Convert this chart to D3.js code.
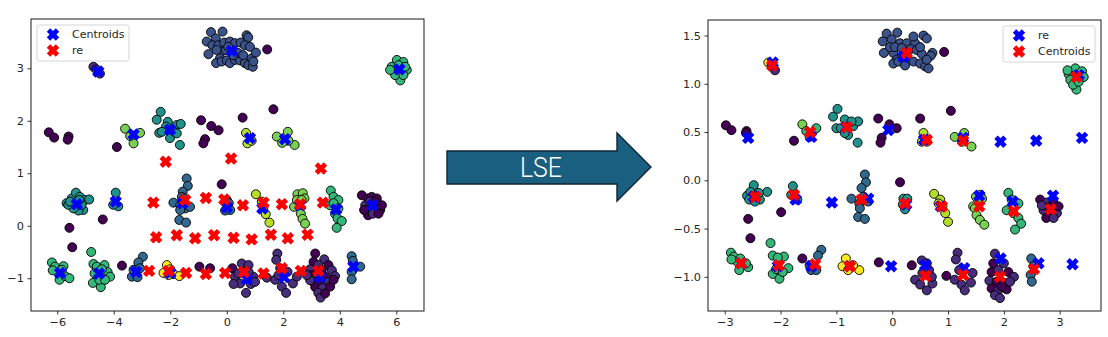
<!DOCTYPE html>
<html>
<head>
<meta charset="utf-8">
<script src="https://cdn.jsdelivr.net/npm/d3@7"></script>
<style>
  body { margin: 0; background: #fff; }
  svg text { font-family: "DejaVu Sans", sans-serif; }
</style>
</head>
<body>
<div id="chart"></div>
<script>
// viridis-like group colours of the points
var groupColors = ["#440154", "#472d7b", "#3b528b", "#31688e", "#21918c", "#35b779", "#7ad151", "#b5de2b", "#fde725"];

// ---- before LSE (left panel) ----
var xTicksBefore = [-6, -4, -2, 0, 2, 4, 6];
var yTicksBefore = [-1, 0, 1, 2, 3];

var pointsBefore = [
  // top cluster
  [-0.56,3.69,2],[-0.15,3.70,2],[-0.39,3.57,2],[-0.71,3.51,2],[-0.51,3.44,2],[-0.30,3.44,2],[-0.09,3.49,2],
  [0.11,3.51,2],[0.29,3.48,2],[0.49,3.49,2],[0.70,3.63,2],[0.76,3.59,2],[0.64,3.44,2],[0.82,3.41,2],
  [-0.65,3.27,2],[-0.18,3.32,2],[-0.03,3.35,2],[-0.24,3.19,2],[-0.38,3.10,2],[-0.18,3.13,2],[0.0,3.15,2],
  [0.11,3.10,2],[0.29,3.16,2],[0.47,3.15,2],[0.64,3.10,2],[0.76,3.06,2],[0.92,3.03,2],[0.88,3.19,2],
  [1.03,3.30,2],[0.41,3.29,2],[0.58,3.25,2],[0.23,3.25,2],[-0.36,3.35,2],[0.94,3.13,2],[0.05,3.41,2],
  [1.43,3.36,0],
  [-4.72,3.03,1],[-4.49,2.90,1],[-4.62,2.98,1],
  [5.84,3.03,5],[6.02,3.16,5],[6.25,3.12,5],[6.37,2.97,5],[6.14,2.77,5],[5.96,2.87,5],[5.78,2.97,5],
  [6.25,2.87,5],[6.08,3.06,5],[6.31,3.03,5],
  // scattered
  [-6.30,1.78,0],[-6.11,1.68,0],[-5.60,1.70,0],[-5.63,1.64,0],[-3.89,1.50,0],[-0.91,2.01,0],[-0.55,1.90,0],
  [-0.29,1.82,0],[-0.77,1.65,0],[-0.83,1.57,0],[0.56,2.06,0],[1.65,2.22,0],[-0.18,0.79,0],[-4.39,0.12,0],
  [-5.57,-0.04,0],[-5.47,-0.41,0],[-3.71,-0.76,0],[-0.97,-0.78,0],[-0.59,-0.81,0],[0.20,-0.81,0],[1.42,-0.99,1],
  // row near 1.7
  [-3.60,1.85,6],[-3.07,1.77,6],[-3.30,1.57,6],[-3.42,1.71,6],
  [-2.34,2.17,4],[-2.48,2.02,4],[-2.09,1.98,4],[-2.39,1.77,4],[-2.01,1.67,4],[-1.66,1.54,4],[-1.77,1.92,4],
  [-1.63,1.94,4],[-1.86,1.79,4],[-2.15,1.89,4],[-1.77,1.76,4],[-2.30,1.79,4],
  [0.68,1.77,7],[0.73,1.57,7],[0.88,1.62,7],
  [1.77,1.70,6],[2.16,1.79,6],[2.40,1.54,6],[2.18,1.62,6],[1.96,1.58,6],
  // row near 0.4
  [-5.67,0.43,4],[-5.49,0.52,4],[-5.34,0.63,4],[-5.20,0.55,4],[-5.02,0.49,4],[-4.87,0.50,4],[-5.08,0.30,4],
  [-5.25,0.29,4],[-5.43,0.33,4],[-5.61,0.40,4],[-5.31,0.43,4],[-5.14,0.40,4],[-5.22,0.49,4],[-5.55,0.46,4],
  [-3.93,0.63,4],[-3.84,0.37,4],[-4.02,0.40,4],
  [-1.42,0.90,3],[-1.38,0.76,3],[-1.56,0.65,3],[-1.59,0.55,3],[-1.89,0.44,3],[-1.65,0.39,3],[-1.47,0.33,3],
  [-1.30,0.36,3],[-1.65,0.30,3],[-1.68,0.11,3],[-1.44,0.06,3],[-1.51,0.52,3],[-1.56,0.46,3],
  [0.0,0.49,3],[-0.06,0.29,3],[0.12,0.30,3],[0.07,0.43,3],
  [1.03,0.60,7],[1.30,0.35,7],[1.38,0.22,7],[1.51,0.06,7],[1.24,0.46,7],
  [2.50,0.60,6],[2.69,0.62,6],[2.75,0.52,6],[2.56,0.39,6],[2.38,0.36,6],[2.62,0.23,6],[2.68,0.13,6],
  [2.77,0.04,6],[2.48,0.49,6],[2.65,0.49,6],
  [3.68,0.67,5],[3.78,0.55,5],[3.95,0.49,5],[3.66,0.39,5],[3.83,0.23,5],[3.92,0.14,5],[4.07,0.09,5],
  [3.89,-0.04,5],[3.78,0.43,5],[3.95,0.33,5],
  [4.78,0.58,0],[5.00,0.52,0],[5.13,0.55,0],[5.31,0.52,0],[4.90,0.39,1],[5.05,0.33,0],[5.25,0.33,0],
  [5.43,0.30,0],[5.00,0.20,0],[5.17,0.23,1],[5.37,0.23,0],[5.31,0.43,0],[4.86,0.30,0],[5.49,0.39,0],
  [5.07,0.46,1],[5.25,0.46,0],
  // row near -0.9
  [-6.19,-0.70,5],[-6.08,-0.78,5],[-6.16,-0.85,5],[-5.78,-0.77,5],[-5.92,-1.03,5],[-5.72,-0.96,5],
  [-5.57,-1.00,5],[-5.84,-0.84,5],
  [-4.80,-0.50,5],[-4.72,-0.73,5],[-4.60,-0.78,5],[-4.33,-0.75,5],[-4.22,-0.88,5],[-4.13,-0.97,5],
  [-4.74,-1.09,5],[-4.46,-1.17,5],[-4.51,-1.03,5],[-4.31,-1.03,5],[-4.68,-0.91,5],[-4.42,-0.83,5],
  [-2.97,-0.59,3],[-3.13,-0.70,3],[-3.36,-0.97,3],[-3.16,-0.98,3],[-3.30,-0.84,3],[-3.07,-0.81,3],
  [-2.12,-0.75,8],[-2.24,-0.90,8],[-2.06,-0.94,8],[-1.89,-0.92,8],[-1.68,-0.96,8],[-2.00,-0.83,8],
  [0.53,-0.72,1],[0.77,-0.75,1],[0.29,-0.97,1],[0.47,-1.10,1],[0.68,-1.28,1],[0.85,-1.11,1],
  [0.94,-0.97,1],[0.59,-0.88,1],[0.77,-0.88,1],[0.41,-0.91,1],[1.00,-1.07,1],[0.24,-1.11,1],
  [1.79,-0.53,1],[1.75,-0.65,1],[1.89,-0.81,1],[1.71,-1.03,1],[1.95,-1.16,1],[2.10,-1.28,1],
  [2.34,-1.10,1],[2.48,-0.97,1],[1.83,-0.94,1],[2.15,-0.88,1],
  [3.13,-0.53,0],[3.45,-0.64,1],[3.07,-0.69,0],[3.24,-0.75,1],[3.60,-0.75,0],[2.95,-0.83,1],
  [3.36,-0.85,0],[3.72,-0.85,1],[3.01,-0.94,0],[3.19,-0.96,1],[3.48,-0.97,0],[3.83,-0.96,1],
  [3.07,-1.07,1],[3.30,-1.09,0],[3.60,-1.07,1],[3.13,-1.17,0],[3.39,-1.19,1],[3.66,-1.16,0],
  [3.24,-1.28,1],[3.32,-1.37,1],[3.48,-1.29,0],[2.95,-1.04,1],[3.78,-1.03,0],[2.83,-0.94,1],
  [4.42,-0.58,3],[4.46,-0.67,3],[4.72,-0.78,3],[4.42,-0.88,3],[4.42,-1.02,3]
];

var centroidsBefore = [
  [-4.55,2.94],[0.18,3.33],[6.11,2.98],[-3.30,1.74],[-2.01,1.83],[0.82,1.67],[2.06,1.65],
  [-5.31,0.41],[-3.93,0.46],[-1.56,0.43],[0.0,0.35],[1.26,0.33],[2.60,0.39],[3.87,0.31],[5.16,0.39],
  [-5.90,-0.90],[-4.52,-0.91],[-3.21,-0.88],[-2.0,-0.90],[0.71,-1.02],[2.03,-0.98],[3.30,-0.98],[4.48,-0.78]
];

var reBefore = [
  [-2.16,1.22],[0.15,1.28],[3.33,1.09],
  [-2.60,0.44],[-1.47,0.49],[-0.74,0.53],[-0.09,0.50],[0.57,0.39],[1.30,0.44],[1.95,0.41],[2.60,0.41],[3.40,0.44],
  [-2.50,-0.22],[-1.77,-0.18],[-1.12,-0.24],[-0.45,-0.18],[0.24,-0.23],[0.88,-0.26],[1.56,-0.17],[2.16,-0.24],[2.86,-0.17],
  [-2.75,-0.86],[-2.06,-0.86],[-1.44,-0.90],[-0.74,-0.92],[-0.06,-0.90],[0.61,-0.88],[1.30,-0.91],[1.95,-0.81],[2.62,-0.86],[3.24,-0.86]
];

// ---- after LSE (right panel) ----
var xTicksAfter = [-3, -2, -1, 0, 1, 2, 3];
var yTicksAfter = [-1.0, -0.5, 0.0, 0.5, 1.0, 1.5];

var pointsAfter = [
  // top cluster
  [-0.10,1.52,2],[0.09,1.53,2],[-0.17,1.44,2],[-0.01,1.46,2],[0.14,1.42,2],[0.26,1.42,2],[0.41,1.42,2],
  [0.56,1.50,2],[0.62,1.47,2],[0.72,1.32,2],[0.69,1.29,2],[-0.15,1.32,2],[0.02,1.32,2],[0.08,1.25,2],
  [0.02,1.21,2],[0.11,1.23,2],[0.26,1.23,2],[0.38,1.23,2],[0.50,1.21,2],[0.59,1.18,2],[0.65,1.16,2],
  [0.23,1.19,2],[-0.04,1.38,2],[0.05,1.38,2],[0.33,1.36,2],[0.44,1.35,2],[0.53,1.31,2],[0.62,1.25,2],
  [0.17,1.37,2],[0.38,1.49,2],[0.50,1.38,2],
  [0.93,1.33,0],
  [-2.22,1.22,8],[-2.10,1.14,1],[-2.16,1.20,1],
  [3.16,1.10,5],[3.28,1.16,5],[3.40,1.13,5],[3.43,1.07,5],[3.19,1.04,5],[3.30,0.94,5],[3.24,0.99,5],
  [3.14,1.14,5],[3.34,1.02,5],
  // scattered
  [-2.98,0.57,0],[-2.88,0.52,0],[-2.61,0.51,0],[-2.62,0.49,0],[-1.76,0.41,0],[-0.25,0.64,0],[-0.05,0.58,0],
  [0.08,0.54,0],[-0.19,0.44,0],[-0.21,0.39,0],[0.50,0.64,0],[1.05,0.72,0],[0.14,-0.02,0],[-1.99,-0.33,0],
  [-2.58,-0.40,0],[-2.54,-0.60,0],[-1.61,-0.81,0],[-0.24,-0.85,0],[0.35,-0.88,0],[0.97,-0.99,0],
  // row near 0.5
  [-1.61,0.58,6],[-1.36,0.54,5],[-1.48,0.45,5],[-1.54,0.51,5],
  [-1.06,0.66,4],[-0.98,0.74,4],[-0.85,0.63,4],[-1.00,0.54,4],[-0.79,0.47,4],[-0.70,0.56,4],[-0.61,0.61,4],
  [-0.62,0.39,4],[-0.92,0.54,4],[-0.73,0.61,4],[-0.85,0.49,4],
  [0.56,0.49,7],[0.62,0.40,7],[0.53,0.40,7],
  [1.12,0.45,6],[1.29,0.49,6],[1.42,0.35,6],[1.25,0.40,6],
  // row near -0.2
  [-2.48,-0.05,4],[-2.60,-0.16,4],[-2.54,-0.12,4],[-2.37,-0.20,4],[-2.24,-0.12,4],[-2.56,-0.20,4],
  [-2.39,-0.13,4],[-2.46,-0.22,4],
  [-1.78,-0.06,4],[-1.81,-0.15,4],[-1.70,-0.20,4],
  [-0.49,0.06,3],[-0.47,-0.02,3],[-0.55,-0.08,3],[-0.73,-0.19,3],[-0.59,-0.24,3],[-0.58,-0.29,3],
  [-0.61,-0.38,3],[-0.49,-0.40,3],[-0.43,-0.22,3],[-0.51,-0.17,3],
  [0.20,-0.19,4],[0.27,-0.19,4],[0.23,-0.30,4],[0.19,-0.25,4],
  [0.75,-0.14,7],[0.86,-0.20,7],[0.90,-0.27,7],[0.95,-0.34,7],[1.00,-0.43,7],[0.83,-0.24,7],
  [1.50,-0.17,6],[1.58,-0.15,6],[1.45,-0.27,6],[1.48,-0.29,6],[1.51,-0.36,6],[1.57,-0.41,6],
  [1.65,-0.46,6],[1.61,-0.19,6],
  [2.08,-0.13,5],[2.14,-0.20,5],[2.05,-0.31,5],[2.17,-0.34,5],[2.26,-0.39,5],[2.31,-0.45,5],
  [2.20,-0.51,5],[2.26,-0.24,5],
  [2.65,-0.20,0],[2.77,-0.23,1],[2.89,-0.23,0],[2.71,-0.31,1],[2.83,-0.34,0],[2.95,-0.34,1],
  [2.76,-0.39,0],[2.89,-0.39,1],[2.98,-0.27,0],[2.80,-0.28,0],[2.68,-0.26,1],
  // row near -0.9
  [-2.89,-0.75,5],[-2.84,-0.79,5],[-2.78,-0.84,5],[-2.88,-0.82,5],[-2.58,-0.90,5],[-2.74,-0.93,5],
  [-2.62,-0.86,5],[-2.72,-0.81,5],
  [-2.18,-0.65,5],[-2.14,-0.78,5],[-1.94,-0.79,5],[-1.86,-0.91,5],[-2.14,-0.97,5],[-2.02,-1.02,5],
  [-2.08,-0.92,5],[-1.96,-0.95,5],[-2.05,-0.80,5],
  [-1.27,-0.72,3],[-1.33,-0.78,3],[-1.45,-0.93,3],[-1.36,-0.93,3],[-1.48,-0.88,3],
  [-0.83,-0.81,8],[-0.89,-0.89,8],[-0.79,-0.93,8],[-0.59,-0.93,8],[-0.70,-0.88,8],
  [0.53,-0.83,1],[0.62,-0.86,1],[0.41,-1.03,1],[0.50,-1.08,1],[0.62,-1.14,1],[0.72,-1.07,1],
  [0.71,-1.00,1],[0.54,-0.96,1],[0.66,-0.93,1],
  [1.17,-0.75,1],[1.14,-0.82,1],[1.12,-1.03,1],[1.24,-1.08,1],[1.30,-1.14,1],[1.44,-0.96,1],
  [1.41,-1.06,1],[1.20,-0.93,1],
  [1.84,-0.76,1],[1.81,-0.86,0],[2.00,-0.86,1],[1.78,-0.95,0],[1.90,-0.93,1],[2.08,-0.95,0],
  [1.74,-1.04,1],[1.87,-1.05,0],[2.00,-1.06,1],[2.18,-1.00,1],[1.78,-1.12,0],[1.90,-1.14,1],
  [2.05,-1.13,0],[1.84,-1.19,1],[1.93,-1.22,1],[1.96,-1.10,0],[2.11,-1.05,1],
  [2.49,-0.81,3],[2.48,-0.98,3],[2.50,-1.05,3],[2.53,-0.89,3]
];

var reAfter = [
  [-2.14,1.22],[0.20,1.28],[3.34,1.09],
  [-2.58,0.44],[-1.45,0.45],[-0.82,0.55],[-0.07,0.52],[0.57,0.42],[1.27,0.44],[1.94,0.40],[2.58,0.41],[3.40,0.44],
  [-2.48,-0.17],[-1.73,-0.20],[-1.08,-0.23],[-0.43,-0.19],[0.25,-0.25],[0.87,-0.27],[1.56,-0.16],[2.16,-0.22],[2.88,-0.16],
  [-2.71,-0.86],[-2.05,-0.89],[-1.45,-0.89],[-0.76,-0.89],[-0.02,-0.89],[0.59,-0.88],[1.29,-0.91],[1.94,-0.81],[2.62,-0.86],[3.23,-0.87]
];

var centroidsAfter = [
  [-2.15,1.19],[0.26,1.32],[3.30,1.07],
  [-1.47,0.50],[-0.81,0.55],[0.62,0.42],[1.27,0.41],
  [-2.45,-0.17],[-1.76,-0.15],[-0.55,-0.20],[0.23,-0.24],[0.89,-0.27],[1.56,-0.27],[2.18,-0.32],[2.84,-0.30],
  [-2.71,-0.86],[-2.03,-0.88],[-1.38,-0.87],[-0.76,-0.89],[0.60,-0.99],[1.27,-0.98],[1.93,-1.00],[2.54,-0.92]
];

var W = 1108, H = 337;
var svg = d3.select("#chart").append("svg")
  .attr("width", W).attr("height", H)
  .style("display", "block");
svg.append("rect").attr("width", W).attr("height", H).attr("fill", "#fff");

// filled 'X' marker, like matplotlib
function xMarker(cx, cy) {
  var a = 2.4, L = 6.4;
  var pts = [[-a,-L],[a,-L],[a,-a],[L,-a],[L,a],[a,a],[a,L],[-a,L],[-a,a],[-L,a],[-L,-a],[-a,-a]];
  var c = Math.SQRT1_2;
  return "M" + pts.map(function(p) {
    return [cx + (p[0] - p[1]) * c, cy + (p[0] + p[1]) * c].join(",");
  }).join("L") + "Z";
}

function panel(cfg) {
  var x = d3.scaleLinear().domain(cfg.xDomain).range([cfg.left, cfg.right]);
  var y = d3.scaleLinear().domain(cfg.yDomain).range([cfg.bottom, cfg.top]);
  var g = svg.append("g");

  var clipId = "clip" + cfg.left;
  g.append("clipPath").attr("id", clipId).append("rect")
    .attr("x", cfg.left).attr("y", cfg.top)
    .attr("width", cfg.right - cfg.left).attr("height", cfg.bottom - cfg.top);

  var plot = g.append("g").attr("clip-path", "url(#" + clipId + ")");

  plot.selectAll("circle.pt")
    .data(cfg.points)
    .enter().append("circle")
      .attr("class", "pt")
      .attr("cx", function(d) { return x(d[0]); })
      .attr("cy", function(d) { return y(d[1]); })
      .attr("r", 4.5)
      .attr("fill", function(d) { return groupColors[d[2]]; })
      .attr("stroke", "#000")
      .attr("stroke-width", 0.9);

  cfg.series.forEach(function(s) {
    plot.selectAll(null)
      .data(s.data)
      .enter().append("path")
        .attr("d", function(d) { return xMarker(x(d[0]), y(d[1])); })
        .attr("fill", s.color);
  });

  // axes
  var xAxis = d3.axisBottom(x).tickValues(cfg.xTicks).tickSizeInner(3.5).tickSizeOuter(0).tickPadding(3.5)
    .tickFormat(cfg.xFormat);
  var yAxis = d3.axisLeft(y).tickValues(cfg.yTicks).tickSizeInner(3.5).tickSizeOuter(0).tickPadding(3.5)
    .tickFormat(cfg.yFormat);

  var gx = g.append("g").attr("transform", "translate(0," + cfg.bottom + ")").call(xAxis);
  var gy = g.append("g").attr("transform", "translate(" + cfg.left + ",0)").call(yAxis);
  [gx, gy].forEach(function(a) {
    a.select(".domain").remove();
    a.selectAll("line").attr("stroke", "#000").attr("stroke-width", 0.8);
    a.selectAll("text").attr("fill", "#262626").style("font-size", "11.3px")
      .style("font-family", "'DejaVu Sans', sans-serif");
  });

  g.append("rect")
    .attr("x", cfg.left).attr("y", cfg.top)
    .attr("width", cfg.right - cfg.left).attr("height", cfg.bottom - cfg.top)
    .attr("fill", "none").attr("stroke", "#000").attr("stroke-width", 0.9);

  // legend
  var lg = g.append("g").attr("transform", "translate(" + cfg.legend[0] + "," + cfg.legend[1] + ")");
  lg.append("rect").attr("width", 92).attr("height", 36).attr("rx", 2.5)
    .attr("fill", "#fff").attr("fill-opacity", 0.85)
    .attr("stroke", "#d0d0d0").attr("stroke-width", 0.9);
  cfg.series.forEach(function(s, i) {
    lg.append("path").attr("d", xMarker(16, 9.5 + i * 16)).attr("fill", s.color);
    lg.append("text").attr("x", 35).attr("y", 9.5 + i * 16).attr("dy", "0.36em")
      .style("font-size", "11px").attr("fill", "#262626").text(s.name);
  });
}

panel({
  left: 31, right: 424, top: 19, bottom: 311,
  xDomain: [-6.93, 6.98], yDomain: [-1.625, 3.94],
  xTicks: xTicksBefore, yTicks: yTicksBefore,
  xFormat: d3.format("d"), yFormat: d3.format("d"),
  points: pointsBefore,
  series: [
    {name: "Centroids", color: "#0000ff", data: centroidsBefore},
    {name: "re", color: "#ff0000", data: reBefore}
  ],
  legend: [37, 25]
});

panel({
  left: 708, right: 1101, top: 20, bottom: 311,
  xDomain: [-3.30, 3.74], yDomain: [-1.354, 1.661],
  xTicks: xTicksAfter, yTicks: yTicksAfter,
  xFormat: d3.format("d"), yFormat: d3.format(".1f"),
  points: pointsAfter,
  series: [
    {name: "re", color: "#0000ff", data: reAfter},
    {name: "Centroids", color: "#ff0000", data: centroidsAfter}
  ],
  legend: [1003, 26]
});

// arrow with the LSE label
var arrow = svg.append("g");
arrow.append("path")
  .attr("d", "M447,151 L617,151 L617,133 L651,167 L617,201 L617,184 L447,184 Z")
  .attr("fill", "#1b5f80")
  .attr("stroke", "#0c2535")
  .attr("stroke-width", 1.4)
  .attr("stroke-linejoin", "miter");
arrow.append("text")
  .attr("x", 541).attr("y", 177)
  .attr("text-anchor", "middle")
  .attr("textLength", 42).attr("lengthAdjust", "spacingAndGlyphs")
  .style("font-family", "'Liberation Sans Narrow', 'Roboto', sans-serif")
  .style("font-weight", 300)
  .style("font-size", "28px")
  .attr("fill", "#fff")
  .text("LSE");
</script>
</body>
</html>
